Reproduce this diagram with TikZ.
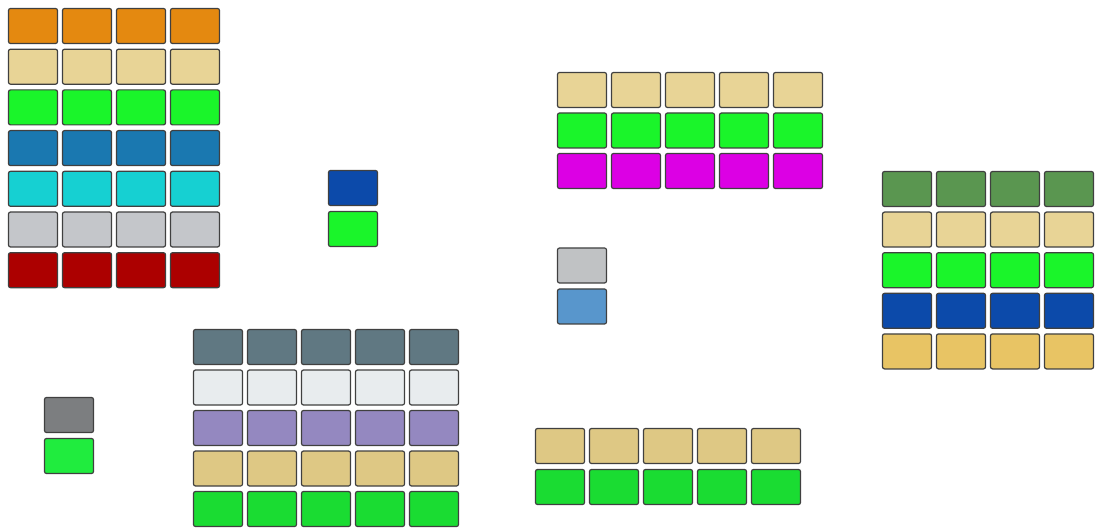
\documentclass[tikz,border=0pt]{standalone}
\definecolor{orange}{RGB}{228,137,16}
\definecolor{tan}{RGB}{232,212,150}
\definecolor{lime}{RGB}{26,245,42}
\definecolor{steel}{RGB}{26,120,176}
\definecolor{aqua}{RGB}{22,208,210}
\definecolor{silver}{RGB}{196,198,202}
\definecolor{crimson}{RGB}{172,0,0}
\definecolor{navy}{RGB}{12,74,170}
\definecolor{slate}{RGB}{96,120,130}
\definecolor{offwhite}{RGB}{232,236,238}
\definecolor{lavender}{RGB}{148,136,192}
\definecolor{sand}{RGB}{222,200,132}
\definecolor{grass}{RGB}{26,220,50}
\definecolor{magenta}{RGB}{220,0,228}
\definecolor{moss}{RGB}{90,150,80}
\definecolor{gold}{RGB}{232,196,100}
\definecolor{pebble}{RGB}{192,194,196}
\definecolor{sky}{RGB}{88,150,204}
\definecolor{ash}{RGB}{124,126,128}
\definecolor{leaf}{RGB}{32,236,62}
\begin{document}
\begin{tikzpicture}[x=1pt,y=-1pt,
  cell/.style={draw=black!75,line width=1.2pt,rounded corners=2pt,
    minimum width=49pt,minimum height=35pt,inner sep=0pt}]
  \useasboundingbox (0,0) rectangle (1095,529);
  % top left block
  \foreach \col [count=\r] in {orange,tan,lime,steel,aqua,silver,crimson}
    \foreach \c in {1,...,4}
      \node[cell,fill=\col] (a-\r-\c) at ({33+54*(\c-1)},{26+40.7*(\r-1)}) {};
  % bottom block
  \foreach \col [count=\r] in {slate,offwhite,lavender,sand,grass}
    \foreach \c in {1,...,5}
      \node[cell,fill=\col] (b-\r-\c) at ({218+54*(\c-1)},{347+40.5*(\r-1)}) {};
  % top middle block
  \foreach \col [count=\r] in {tan,lime,magenta}
    \foreach \c in {1,...,5}
      \node[cell,fill=\col] (c-\r-\c) at ({582+54*(\c-1)},{90+40.5*(\r-1)}) {};
  % right block
  \foreach \col [count=\r] in {moss,tan,lime,navy,gold}
    \foreach \c in {1,...,4}
      \node[cell,fill=\col] (d-\r-\c) at ({907+54*(\c-1)},{189+40.6*(\r-1)}) {};
  % bottom right block
  \foreach \col [count=\r] in {sand,grass}
    \foreach \c in {1,...,5}
      \node[cell,fill=\col] (h-\r-\c) at ({560+54*(\c-1)},{446+41*(\r-1)}) {};
  % pairs
  \node[cell,fill=navy] (e-1) at (353,188) {};
  \node[cell,fill=lime] (e-2) at (353,229) {};
  \node[cell,fill=pebble] (f-1) at (582,265.5) {};
  \node[cell,fill=sky] (f-2) at (582,306.5) {};
  \node[cell,fill=ash] (g-1) at (69,415) {};
  \node[cell,fill=leaf] (g-2) at (69,456) {};
\end{tikzpicture}
\end{document}
